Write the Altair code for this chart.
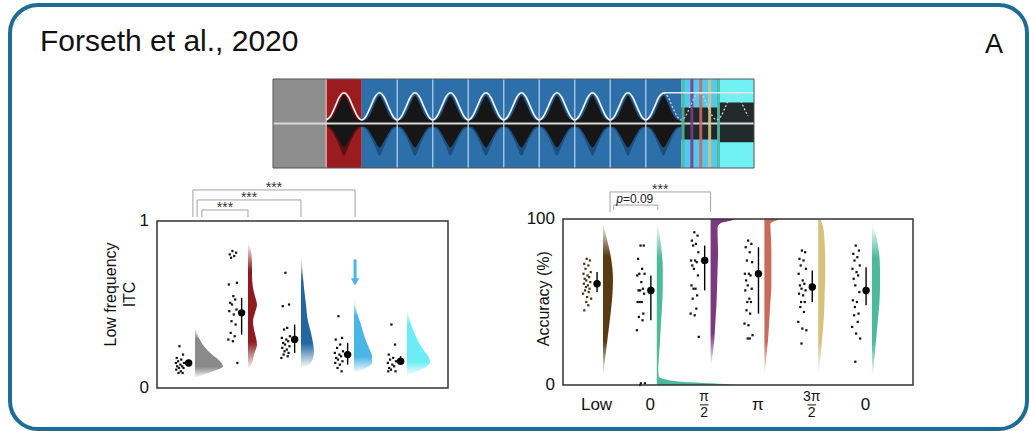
import altair as alt
import pandas as pd

# ------------------------------------------------------------------ text
TITLE = "Forseth et al., 2020"
PANEL_LABEL = "A"

# ------------------------------------------------------------------ stimulus (time in cycles, amplitude -1..1)
STIM_SEG_START = [0.0, 1.5, 2.5, 11.5, 12.55]
STIM_SEG_END = [1.5, 2.5, 11.5, 12.55, 13.55]
STIM_SEG_COLOR = ["#8e8e8e", "#9a1c20", "#2d6fa8", "#56c8ef", "#70f2f4"]
CYCLE_STARTS = [1.5, 2.5, 3.5, 4.5, 5.5, 6.5, 7.5, 8.5, 9.5, 10.5]
CYCLE_HALO = ["#4a0c0f", "#1a4675", "#1a4675", "#1a4675", "#1a4675",
              "#1a4675", "#1a4675", "#1a4675", "#1a4675", "#1a4675"]
CYCLE_PHASE = [0.0, 0.125, 0.25, 0.375, 0.5, 0.625, 0.75, 0.875, 1.0]
SINE_SHAPE = [0.08, 0.17, 0.38, 0.60, 0.69, 0.60, 0.38, 0.17, 0.08]
ENV_UP = [0.06, 0.09, 0.22, 0.45, 0.62, 0.45, 0.22, 0.09, 0.06]
ENV_DN = [-0.06, -0.09, -0.22, -0.40, -0.54, -0.40, -0.22, -0.09, -0.06]
HALO_UP = [0.07, 0.13, 0.30, 0.52, 0.66, 0.52, 0.30, 0.13, 0.07]
HALO_DN = [-0.08, -0.14, -0.30, -0.52, -0.72, -0.52, -0.30, -0.14, -0.08]
CYCLE_LINES = [1.5, 3.5, 4.5, 5.5, 6.5, 7.5, 8.5, 9.5, 10.5]
CYCLE_LINE_COLOR = ["#e9a6a6", "#a8cbe8", "#a8cbe8", "#a8cbe8", "#a8cbe8",
                    "#a8cbe8", "#a8cbe8", "#a8cbe8", "#a8cbe8"]
NOISE_BAND_LO = [-0.36, -0.42]
NOISE_BAND_HI = [0.36, 0.47]
NOISE_BAND_START = [11.5, 12.55]
NOISE_BAND_END = [12.55, 13.55]
FLAT_START = 11.0
FLAT_END = 13.55
FLAT_LEVEL = 0.69
GHOST_CYCLES = [10.5, 11.5, 12.5]
TARGET_PHASE = [11.55, 11.8, 12.05, 12.3, 12.55]
TARGET_COLOR = ["#4fb99c", "#7c3b80", "#c96b5c", "#d6c37e", "#4fb99c"]

# ------------------------------------------------------------------ left panel: low-frequency ITC
L_COLORS = ["#8a8a8a", "#8d1b1f", "#24679f", "#49b6e5", "#6cecf5"]
L_POINTS = [
    [0.25, 0.20, 0.18, 0.17, 0.16, 0.15, 0.15, 0.14, 0.13, 0.13, 0.12, 0.12, 0.11, 0.10, 0.09, 0.09],
    [0.82, 0.81, 0.80, 0.79, 0.78, 0.63, 0.62, 0.55, 0.53, 0.51, 0.50, 0.47, 0.46, 0.44, 0.40,
     0.38, 0.33, 0.31, 0.29, 0.28, 0.15],
    [0.69, 0.50, 0.49, 0.36, 0.35, 0.31, 0.30, 0.29, 0.28, 0.27, 0.26, 0.25, 0.24, 0.23, 0.22,
     0.21, 0.20, 0.19, 0.18],
    [0.43, 0.30, 0.29, 0.26, 0.24, 0.22, 0.21, 0.20, 0.19, 0.18, 0.17, 0.16, 0.15, 0.14, 0.12, 0.10],
    [0.38, 0.26, 0.20, 0.18, 0.17, 0.16, 0.15, 0.14, 0.13, 0.12, 0.11, 0.10, 0.10],
]
L_MEAN = [0.15, 0.45, 0.29, 0.20, 0.16]
L_LO = [0.13, 0.32, 0.21, 0.14, 0.14]
L_HI = [0.17, 0.54, 0.38, 0.27, 0.19]
L_VIOLIN_Y = [
    [0.36, 0.30, 0.25, 0.20, 0.16, 0.13, 0.10, 0.08, 0.06],
    [0.87, 0.82, 0.75, 0.68, 0.60, 0.55, 0.50, 0.45, 0.40, 0.35, 0.30, 0.26, 0.20, 0.15, 0.11],
    [0.79, 0.70, 0.60, 0.50, 0.40, 0.33, 0.27, 0.22, 0.18, 0.14, 0.12],
    [0.53, 0.45, 0.38, 0.30, 0.24, 0.19, 0.15, 0.12, 0.09],
    [0.47, 0.40, 0.32, 0.25, 0.20, 0.16, 0.13, 0.10, 0.07],
]
L_VIOLIN_W = [   # half-violin width, in pixels of the picture
    [0, 4, 9, 17, 25, 28, 18, 8, 0],
    [0, 3, 4, 4, 5, 7, 9, 7, 5, 6, 8, 9, 6, 4, 0],
    [0, 1.5, 3, 5, 7, 10, 12, 13, 12, 8, 0],
    [0, 3, 7, 11, 15, 18, 18, 12, 0],
    [0, 3, 8, 14, 20, 23, 20, 10, 0],
]
L_BRACKET_X1 = [1.13, 1.04, 0.96]
L_BRACKET_X2 = [2.0, 3.0, 4.02]
L_BRACKET_TOP = [1.066, 1.126, 1.186]
L_BRACKET_FOOT = 1.024
L_BRACKET_TEXT = ["***", "***", "***"]
L_ARROW_X = 4.02
L_ARROW_TOP = 0.77
L_ARROW_HEAD = 0.635
L_YTICKS = [0, 1]
L_YTITLE = ["Low frequency", "ITC"]
L_YTITLE_X = [-0.58, -0.22]
L_YTITLE_Y = 0.56

# ------------------------------------------------------------------ right panel: accuracy
R_LABELS = ["Low", "0", "π/2", "π", "3π/2", "0"]
R_COLORS = ["#5a3a12", "#4db99b", "#7b3a7f", "#c96a5b", "#d6c27d", "#4db99b"]
R_DOT_COLORS = ["#4a3312", "#111111", "#111111", "#111111", "#111111", "#111111"]
R_POINTS = [
    [76, 75, 73, 72, 70, 68, 67, 66, 65, 64, 63, 62, 61, 60, 59, 58, 57, 56, 55, 53, 52, 50, 48, 45],
    [84, 84, 76, 70, 67, 67, 66, 62, 58, 57, 57, 55, 50, 50, 50, 43, 41, 39, 33, 1, 1, 0],
    [92, 90, 87, 85, 84, 80, 75, 75, 74, 72, 70, 66, 60, 58, 58, 54, 52, 46, 43, 42, 29],
    [87, 85, 83, 80, 75, 74, 67, 67, 66, 63, 60, 58, 57, 52, 50, 50, 45, 43, 37, 36, 30, 28, 28],
    [81, 80, 76, 75, 72, 70, 67, 63, 61, 60, 58, 57, 55, 54, 50, 50, 47, 44, 38, 34, 33, 25],
    [84, 81, 79, 77, 75, 72, 70, 68, 66, 64, 60, 56, 51, 50, 47, 43, 42, 38, 35, 31, 28, 14],
]
R_MEAN = [61, 57, 75, 67, 59, 57]
R_LO = [56, 39, 57, 43, 50, 48]
R_HI = [68, 66, 84, 83, 69, 71]
R_VIOLIN_Y = [
    [98, 90, 80, 70, 63, 55, 45, 35, 25, 15, 6],
    [98, 90, 80, 70, 60, 50, 40, 30, 20, 10, 5, 3.5, 2, 1, 0],
    [100, 99, 97.5, 95, 90, 80, 70, 60, 50, 40, 30, 20, 11],
    [100, 99, 97, 95, 90, 80, 70, 60, 50, 40, 30, 20, 5],
    [100, 95, 85, 75, 65, 55, 45, 35, 25, 15, 5],
    [97, 90, 80, 70, 60, 50, 40, 30, 20, 10, 5],
]
R_VIOLIN_W = [
    [0, 3, 7, 9.5, 10, 9.5, 8, 6, 4, 2, 0],
    [0, 3, 5, 6, 6, 5.5, 4.5, 3.5, 2.5, 1.5, 2, 8, 25, 55, 80],
    [26, 20, 10, 7, 7, 7.5, 7, 6.5, 6, 5, 4, 2.5, 0],
    [18, 11, 6, 6, 6.5, 7, 7, 7, 6, 5, 4, 2.5, 0],
    [2, 5, 6.5, 7, 7, 6.5, 6, 5, 3.5, 2, 0],
    [0, 4, 7, 8, 8, 7.5, 6, 4.5, 3, 1.5, 0],
]
R_BRACKET_X1 = [1.20, 1.13]
R_BRACKET_X2 = [2.02, 3.0]
R_BRACKET_TOP = [108.4, 116.3]
R_BRACKET_FOOT = [105.4, 104.2]
R_STAR_TEXT = "***"
R_P_TEXT = "=0.09"
R_P_X = 1.37
R_YTICKS = [0, 100]
R_YTITLE = "Accuracy (%)"
R_YTITLE_X = -0.096
R_YTITLE_Y = 52

# hand-read horizontal scatter of the raw dots (0 = nearest the mean, 1 = farthest)
JITTER = [0.55, 0.15, 0.85, 0.35, 0.7, 0.05, 0.95, 0.45, 0.25, 0.8, 0.6, 0.1,
          0.9, 0.4, 0.65, 0.2, 0.75, 0.3, 1.0, 0.5, 0.0, 0.6, 0.35, 0.85, 0.15]

# ------------------------------------------------------------------ layout
OX, OY = 10, 5             # view origin = rounded frame
W, H = 1017, 424
FONT = "Liberation Sans"
BORDER = "#1b6d96"


def xs(dom, a, b):
    return alt.Scale(domain=dom, range=[a - OX, b - OX], nice=False, zero=False)


def ys(dom, a, b):
    return alt.Scale(domain=dom, range=[a - OY, b - OY], nice=False, zero=False)


S_DOM = [0, 13.55]
SX = xs(S_DOM, 273, 754)
SY = ys([-1, 1], 168, 79)
L_DOM = [0.283, 5.774]
LX = xs(L_DOM, 157, 448)
LY = ys([0, 1], 388, 221)
L_PX = 53.0
R_DOM = [0.257, 6.762]
RX = xs(R_DOM, 563, 913)
RY = ys([0, 100], 385, 219)
R_PX = 53.8


def X(f, sc):
    return alt.X(f, scale=sc, axis=None)


def Y(f, sc):
    return alt.Y(f, scale=sc, axis=None)


# ================================================================== stimulus
seg = pd.DataFrame({"x0": STIM_SEG_START, "x1": STIM_SEG_END, "col": STIM_SEG_COLOR,
                    "y0": -1, "y1": 1})
seg_l = alt.Chart(seg).mark_rect().encode(
    x=X("x0:Q", SX), x2="x1:Q", y=Y("y0:Q", SY), y2="y1:Q",
    color=alt.Color("col:N", scale=None))

env_rows = []
for c, (st, hcol) in enumerate(zip(CYCLE_STARTS, CYCLE_HALO)):
    for i, p in enumerate(CYCLE_PHASE):
        env_rows.append(dict(c=c, t=st + p, eu=ENV_UP[i], ed=ENV_DN[i],
                             hu=HALO_UP[i], hd=HALO_DN[i], hcol=hcol))
env = pd.DataFrame(env_rows)
halo_l = alt.Chart(env).mark_area(interpolate="monotone", opacity=0.8).encode(
    x=X("t:Q", SX), y=Y("hu:Q", SY), y2="hd:Q",
    color=alt.Color("hcol:N", scale=None), detail="c:N")
env_l = alt.Chart(env).mark_area(interpolate="monotone", color="#161616").encode(
    x=X("t:Q", SX), y=Y("eu:Q", SY), y2="ed:Q", detail="c:N")

band = pd.DataFrame({"x0": NOISE_BAND_START, "x1": NOISE_BAND_END,
                     "y0": NOISE_BAND_LO, "y1": NOISE_BAND_HI})
band_l = alt.Chart(band).mark_rect(color="#1a1a1a", opacity=0.92).encode(
    x=X("x0:Q", SX), x2="x1:Q", y=Y("y0:Q", SY), y2="y1:Q")

cl = pd.DataFrame({"t": CYCLE_LINES, "col": CYCLE_LINE_COLOR, "y0": -1, "y1": 1})
cl_l = alt.Chart(cl).mark_rule(strokeWidth=1.5, opacity=0.9).encode(
    x=X("t:Q", SX), y=Y("y0:Q", SY), y2="y1:Q", color=alt.Color("col:N", scale=None))

mid = pd.DataFrame({"t": S_DOM, "v": [0, 0]})
mid_l = alt.Chart(mid).mark_line(color="#d9d9d9", strokeWidth=2).encode(
    x=X("t:Q", SX), y=Y("v:Q", SY))

sine_rows = []
for st in CYCLE_STARTS:
    for i, p in enumerate(CYCLE_PHASE[:-1]):
        if st + p <= FLAT_START:
            sine_rows.append(dict(t=st + p, v=SINE_SHAPE[i]))
sine = pd.DataFrame(sine_rows)
sine_l = alt.Chart(sine).mark_line(color="#f2f2f2", strokeWidth=1.6,
                                   interpolate="monotone").encode(
    x=X("t:Q", SX), y=Y("v:Q", SY))

ghost_rows = []
for st in GHOST_CYCLES:
    for i, p in enumerate(CYCLE_PHASE[:-1]):
        if FLAT_START <= st + p <= FLAT_END:
            ghost_rows.append(dict(t=st + p, v=SINE_SHAPE[i]))
ghost = pd.DataFrame(ghost_rows)
ghost_l = alt.Chart(ghost).mark_line(color="#d0d0d0", strokeWidth=1.3, strokeDash=[2, 2],
                                     interpolate="monotone").encode(
    x=X("t:Q", SX), y=Y("v:Q", SY))

flat = pd.DataFrame({"t": [FLAT_START, FLAT_END], "v": [FLAT_LEVEL, FLAT_LEVEL]})
flat_l = alt.Chart(flat).mark_line(color="#e8e8e8", strokeWidth=1.6).encode(
    x=X("t:Q", SX), y=Y("v:Q", SY))

tg = pd.DataFrame({"t": TARGET_PHASE, "col": TARGET_COLOR, "y0": -1, "y1": 1})
tg_l = alt.Chart(tg).mark_rule(strokeWidth=3, opacity=0.9).encode(
    x=X("t:Q", SX), y=Y("y0:Q", SY), y2="y1:Q", color=alt.Color("col:N", scale=None))

sframe = pd.DataFrame({"x0": [S_DOM[0]], "x1": [S_DOM[1]], "y0": [-1], "y1": [1]})
sframe_l = alt.Chart(sframe).mark_rect(fill=None, stroke="#555555", strokeWidth=1).encode(
    x=X("x0:Q", SX), x2="x1:Q", y=Y("y0:Q", SY), y2="y1:Q")

stim = alt.layer(seg_l, halo_l, env_l, band_l, cl_l, mid_l, tg_l, ghost_l, flat_l,
                 sine_l, sframe_l)


# ================================================================== raincloud helpers
def fade(col, top, bottom):
    stops = [alt.GradientStop(offset=0, color="#ffffff" if top else col),
             alt.GradientStop(offset=0.22, color=col),
             alt.GradientStop(offset=0.78, color=col),
             alt.GradientStop(offset=1, color="#ffffff" if bottom else col)]
    return alt.Gradient(gradient="linear", x1=0, x2=0, y1=0, y2=1, stops=stops)


def raincloud(points, means, los, his, vy, vw, colors, dot_colors, sx, sy, px_per_unit,
              dot_off, dot_spread, mean_off):
    prow, mrow, layers = [], [], []
    for g, pts in enumerate(points):
        base = g + 1
        for k, v in enumerate(pts):
            j = JITTER[k % len(JITTER)]
            prow.append(dict(g=g, x=base - dot_off - dot_spread * j, y=v, col=dot_colors[g]))
        vdf = pd.DataFrame({"y": vy[g], "x0": base,
                            "x1": [base + w / px_per_unit for w in vw[g]]})
        grad = fade(colors[g], vw[g][0] == 0, vw[g][-1] == 0)
        layers.append(alt.Chart(vdf).mark_area(orient="horizontal", interpolate="monotone",
                                               color=grad).encode(
            y=Y("y:Q", sy), x=alt.X("x0:Q", scale=sx, axis=None, stack=None), x2="x1:Q"))
        mrow.append(dict(g=g, x=base - mean_off, m=means[g], lo=los[g], hi=his[g]))
    pdf, mdf = pd.DataFrame(prow), pd.DataFrame(mrow)
    dots = alt.Chart(pdf).mark_square(size=5, opacity=1).encode(
        x=X("x:Q", sx), y=Y("y:Q", sy), color=alt.Color("col:N", scale=None))
    err = alt.Chart(mdf).mark_rule(color="#000000", strokeWidth=1.4).encode(
        x=X("x:Q", sx), y=Y("lo:Q", sy), y2="hi:Q")
    mean = alt.Chart(mdf).mark_circle(size=55, color="#000000", opacity=1).encode(
        x=X("x:Q", sx), y=Y("m:Q", sy))
    return layers + [dots, err, mean]


def frame(dom_x, dom_y, sx, sy):
    f = pd.DataFrame({"x0": [dom_x[0]], "x1": [dom_x[1]], "y0": [dom_y[0]], "y1": [dom_y[1]]})
    return alt.Chart(f).mark_rect(fill=None, stroke="#333333", strokeWidth=1.5).encode(
        x=X("x0:Q", sx), x2="x1:Q", y=Y("y0:Q", sy), y2="y1:Q")


def brackets(x1, x2, top, foot, sx, sy):
    rows = []
    for b in range(len(x1)):
        ft = foot[b] if isinstance(foot, list) else foot
        rows.append(dict(b=b, o=0, x=x1[b], y=ft))
        rows.append(dict(b=b, o=1, x=x1[b], y=top[b]))
        rows.append(dict(b=b, o=2, x=x2[b], y=top[b]))
        rows.append(dict(b=b, o=3, x=x2[b], y=ft))
    return alt.Chart(pd.DataFrame(rows)).mark_line(color="#a3a3a3", strokeWidth=1).encode(
        x=X("x:Q", sx), y=Y("y:Q", sy), detail="b:N", order="o:Q")


# ================================================================== left panel
left_layers = raincloud(L_POINTS, L_MEAN, L_LO, L_HI, L_VIOLIN_Y, L_VIOLIN_W, L_COLORS,
                        ["#111111"] * 5, LX, LY, L_PX, 0.20, 0.17, 0.12)
left_layers.append(frame(L_DOM, [0, 1], LX, LY))
left_layers.append(brackets(L_BRACKET_X1, L_BRACKET_X2, L_BRACKET_TOP, L_BRACKET_FOOT, LX, LY))
lstar = pd.DataFrame({"x": [(a + b) / 2 for a, b in zip(L_BRACKET_X1, L_BRACKET_X2)],
                      "y": L_BRACKET_TOP, "t": L_BRACKET_TEXT})
left_layers.append(alt.Chart(lstar).mark_text(font=FONT, fontSize=14, color="#333333",
                                              baseline="alphabetic", dy=2).encode(
    x=X("x:Q", LX), y=Y("y:Q", LY), text="t:N"))
arrow = pd.DataFrame({"x": [L_ARROW_X], "y0": [L_ARROW_TOP], "y1": [L_ARROW_HEAD]})
left_layers.append(alt.Chart(arrow).mark_rule(color="#4ab8e6", strokeWidth=3).encode(
    x=X("x:Q", LX), y=Y("y0:Q", LY), y2="y1:Q"))
left_layers.append(alt.Chart(arrow).mark_point(shape="triangle-down", filled=True, size=70,
                                               color="#4ab8e6", opacity=1).encode(
    x=X("x:Q", LX), y=Y("y1:Q", LY)))
lt = pd.DataFrame({"x": [L_DOM[0]] * len(L_YTICKS), "y": L_YTICKS,
                   "t": [str(v) for v in L_YTICKS]})
left_layers.append(alt.Chart(lt).mark_text(font=FONT, fontSize=17, align="right",
                                           baseline="middle", dx=-8, color="#111111").encode(
    x=X("x:Q", LX), y=Y("y:Q", LY), text="t:N"))
ltitle = pd.DataFrame({"x": L_YTITLE_X, "y": [L_YTITLE_Y] * 2, "t": L_YTITLE})
left_layers.append(alt.Chart(ltitle).mark_text(font=FONT, fontSize=16, angle=270,
                                               align="center", baseline="middle",
                                               color="#111111").encode(
    x=X("x:Q", LX), y=Y("y:Q", LY), text="t:N"))
left = alt.layer(*left_layers)

# ================================================================== right panel
right_layers = raincloud(R_POINTS, R_MEAN, R_LO, R_HI, R_VIOLIN_Y, R_VIOLIN_W, R_COLORS,
                         R_DOT_COLORS, RX, RY, R_PX, 0.22, 0.15, 0.11)
right_layers.append(frame(R_DOM, [0, 100], RX, RY))
right_layers.append(brackets(R_BRACKET_X1, R_BRACKET_X2, R_BRACKET_TOP, R_BRACKET_FOOT, RX, RY))
rstar = pd.DataFrame({"x": [(R_BRACKET_X1[1] + R_BRACKET_X2[1]) / 2],
                      "y": [R_BRACKET_TOP[1]], "t": [R_STAR_TEXT]})
right_layers.append(alt.Chart(rstar).mark_text(font=FONT, fontSize=14, color="#333333",
                                               baseline="alphabetic", dy=2).encode(
    x=X("x:Q", RX), y=Y("y:Q", RY), text="t:N"))
pt = pd.DataFrame({"x": [R_P_X], "y": [R_BRACKET_TOP[0]], "p": ["p"], "t": [R_P_TEXT]})
right_layers.append(alt.Chart(pt).mark_text(font=FONT, fontSize=12, fontStyle="italic",
                                            align="right", baseline="alphabetic", dy=-2,
                                            color="#222222").encode(
    x=X("x:Q", RX), y=Y("y:Q", RY), text="p:N"))
right_layers.append(alt.Chart(pt).mark_text(font=FONT, fontSize=12, align="left",
                                            baseline="alphabetic", dy=-2,
                                            color="#222222").encode(
    x=X("x:Q", RX), y=Y("y:Q", RY), text="t:N"))
rt = pd.DataFrame({"x": [R_DOM[0]] * len(R_YTICKS), "y": R_YTICKS,
                   "t": [str(v) for v in R_YTICKS]})
right_layers.append(alt.Chart(rt).mark_text(font=FONT, fontSize=17, align="right",
                                            baseline="middle", dx=-8, color="#111111").encode(
    x=X("x:Q", RX), y=Y("y:Q", RY), text="t:N"))
rtitle = pd.DataFrame({"x": [R_YTITLE_X], "y": [R_YTITLE_Y], "t": [R_YTITLE]})
right_layers.append(alt.Chart(rtitle).mark_text(font=FONT, fontSize=16, angle=270,
                                                align="center", baseline="middle",
                                                color="#111111").encode(
    x=X("x:Q", RX), y=Y("y:Q", RY), text="t:N"))

# x labels (fractions stacked)
simple, num, den, bar = [], [], [], []
for g, lab in enumerate(R_LABELS):
    xpos = g + 1 - 0.12
    if "/" in lab:
        a, b = lab.split("/")
        num.append(dict(x=xpos, y=-12, t=a))
        den.append(dict(x=xpos, y=-12, t=b))
        bar.append(dict(x0=xpos - 0.08, x1=xpos + 0.08, y=-12))
    else:
        simple.append(dict(x=xpos, y=-12, t=lab))
right_layers.append(alt.Chart(pd.DataFrame(simple)).mark_text(
    font=FONT, fontSize=17, baseline="middle", color="#111111").encode(
    x=X("x:Q", RX), y=Y("y:Q", RY), text="t:N"))
right_layers.append(alt.Chart(pd.DataFrame(num)).mark_text(
    font=FONT, fontSize=14, baseline="bottom", dy=-1, color="#111111").encode(
    x=X("x:Q", RX), y=Y("y:Q", RY), text="t:N"))
right_layers.append(alt.Chart(pd.DataFrame(den)).mark_text(
    font=FONT, fontSize=14, baseline="top", dy=1, color="#111111").encode(
    x=X("x:Q", RX), y=Y("y:Q", RY), text="t:N"))
right_layers.append(alt.Chart(pd.DataFrame(bar)).mark_rule(color="#111111", strokeWidth=1).encode(
    x=X("x0:Q", RX), x2="x1:Q", y=Y("y:Q", RY)))
right = alt.layer(*right_layers)

# ================================================================== headings
head = pd.DataFrame({"t": [TITLE]})
title_l = alt.Chart(head).mark_text(font=FONT, fontSize=30, align="left",
                                    baseline="alphabetic", color="#111111").encode(
    text="t:N", x=alt.value(40 - OX), y=alt.value(51 - OY))
lab = pd.DataFrame({"t": [PANEL_LABEL]})
label_l = alt.Chart(lab).mark_text(font=FONT, fontSize=27, align="center",
                                   baseline="alphabetic", color="#111111").encode(
    text="t:N", x=alt.value(994 - OX), y=alt.value(53 - OY))

chart = alt.layer(stim, left, right, title_l, label_l).resolve_scale(
    x="independent", y="independent"
).properties(
    width=W, height=H,
    autosize=alt.AutoSizeParams(type="none"),
    padding={"left": OX, "top": OY, "right": 1030 - OX - W, "bottom": 431 - OY - H},
    background="white",
).configure_view(
    stroke=BORDER, strokeWidth=4, cornerRadius=28, fill="white"
)

chart.save("out.html", embed_options={"renderer": "svg", "actions": False})
